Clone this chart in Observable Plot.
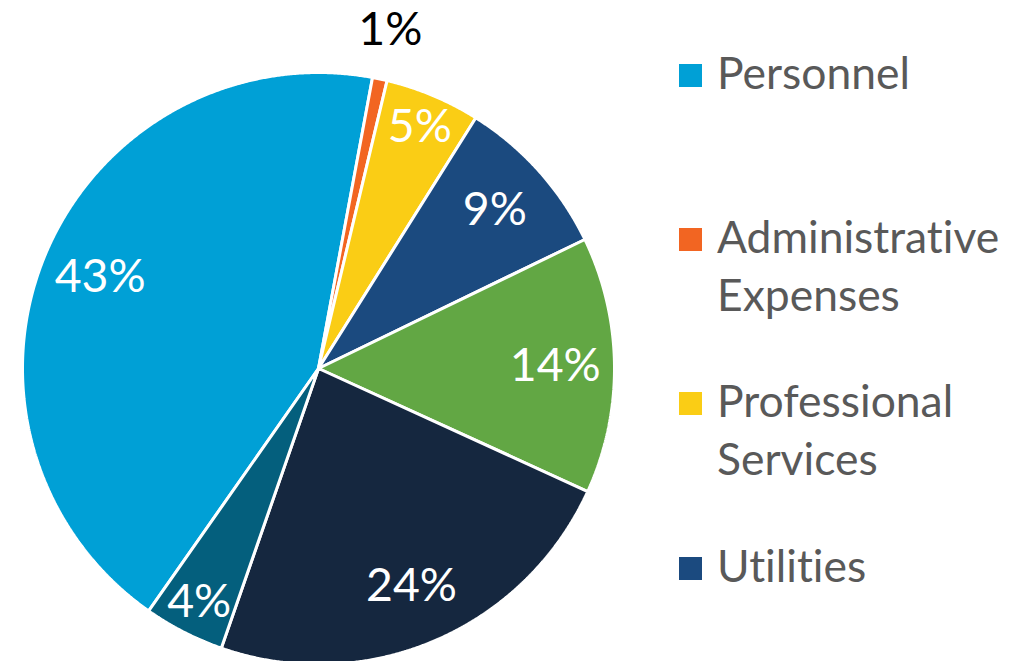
<!DOCTYPE html>
<html><head><meta charset="utf-8">
<script src="https://cdn.jsdelivr.net/npm/d3@7"></script>
<script src="https://cdn.jsdelivr.net/npm/@observablehq/plot@0.6"></script>
<style>
html,body{margin:0;padding:0;background:#fff;width:1031px;height:661px;overflow:hidden;}
#wrap{position:relative;width:1031px;height:661px;}
#wrap svg{position:absolute;left:0;top:0;font-variant-ligatures:none;}
.item{position:absolute;left:679px;font-family:Lato,"Open Sans",sans-serif;color:#595959;font-variant-ligatures:none;font-feature-settings:"liga" 0,"dlig" 0;}
.sw{position:absolute;left:0;width:23px;height:23px;}
.lab{position:absolute;left:38px;white-space:nowrap;line-height:57.5px;}
</style></head><body><div id="wrap"></div>
<script>
// ---- data ----
const categories = ["Personnel","Administrative Expenses","Professional Services","Utilities","Category 5","Category 6","Category 7"];
const shares = [43.2, 0.8, 5.2, 8.9, 14.0, 23.5, 4.4];
const colors = ["#00A0D6","#F26522","#FACD15","#1B4A7F","#62A744","#15273F","#045F7D"];
const legendLines = [["Personnel"],["Administrative","Expenses"],["Professional","Services"],["Utilities"]];
const startDeg = 215;

const FONT = 'Lato, "Open Sans", sans-serif';
const ctx = document.createElement("canvas").getContext("2d");
function fit(text, target) { ctx.font = `48px ${FONT}`; return 48 * target / ctx.measureText(text).width; }
const legendFs = fit("Personnel", 193);
const labelFs = fit("43%", 91);

const data = categories.map((name, i) => ({name, share: shares[i]}));
const arcs = d3.pie().sort(null).value(d => d.share)
  .startAngle(startDeg * Math.PI / 180).endAngle((startDeg + 360) * Math.PI / 180)(data);

const verts = [];
for (const a of arcs) {
  const name = a.data.name;
  verts.push({name, x: 0, y: 0});
  const n = Math.max(2, Math.ceil((a.endAngle - a.startAngle) / (0.25 * Math.PI / 180)));
  for (let k = 0; k <= n; k++) {
    const t = a.startAngle + (a.endAngle - a.startAngle) * k / n;
    verts.push({name, x: Math.sin(t), y: Math.cos(t)});
  }
  verts.push({name, x: 0, y: 0});
}

const labels = arcs.map(a => {
  const s = a.data.share;
  const r = s < 2 ? 1.17 : s < 6 ? 0.885 : 0.8;
  const m = (a.startAngle + a.endAngle) / 2;
  return {x: r * Math.sin(m), y: r * Math.cos(m), text: Math.round(s) + "%", outside: r > 1};
});

const chart = Plot.plot({
  width: 1031, height: 661, margin: 0,
  style: {background: "transparent", overflow: "visible"},
  x: {domain: [-1, 1], range: [22, 614], axis: null},
  y: {domain: [-1, 1], range: [664, 72], axis: null},
  color: {domain: categories, range: colors},
  marks: [
    Plot.line(verts, {x: "x", y: "y", z: "name", fill: "name", stroke: "white", strokeWidth: 3, strokeLinejoin: "miter"}),
    Plot.text(labels.filter(d => !d.outside), {x: "x", y: "y", text: "text", fill: "white", fontSize: labelFs, fontFamily: FONT}),
    Plot.text(labels.filter(d => d.outside), {x: "x", y: "y", text: "text", fill: "black", fontSize: labelFs, fontFamily: FONT})
  ]
});
const wrap = document.getElementById("wrap");
wrap.appendChild(chart);

// legend (HTML)
const baselines = [89, 253, 417, 582];
const LH = 57.5;
legendLines.forEach((lines, i) => {
  const item = document.createElement("div");
  item.className = "item";
  const off = (LH - 1.2 * legendFs) / 2 + 0.987 * legendFs;
  item.style.top = (baselines[i] - off) + "px";
  const sw = document.createElement("div");
  sw.className = "sw";
  sw.style.background = colors[i];
  sw.style.top = (off - 25) + "px";
  item.appendChild(sw);
  const lab = document.createElement("div");
  lab.className = "lab";
  lab.style.fontSize = legendFs + "px";
  lab.innerHTML = lines.join("<br>");
  item.appendChild(lab);
  wrap.appendChild(item);
});
</script></body></html>
